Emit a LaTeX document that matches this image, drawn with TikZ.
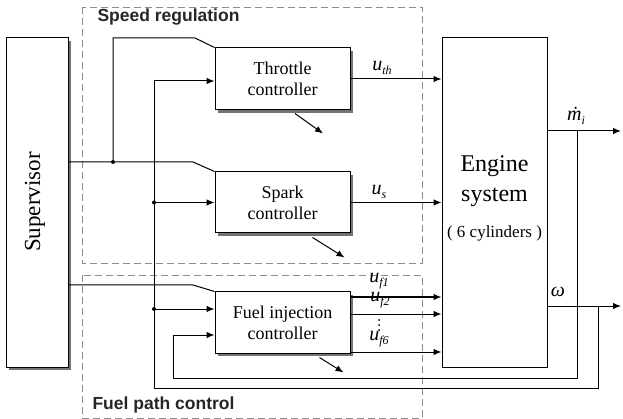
\documentclass[tikz,border=0pt]{standalone}
\usepackage{fontspec}
\setmainfont{Liberation Serif}
\newfontfamily\lblfont{Liberation Sans}
\usetikzlibrary{arrows.meta,shadows,calc}
\newcommand\usub[1]{\textit{u}\raisebox{-3.5pt}{\fontsize{12}{12}\selectfont\itshape #1}}
\begin{document}
\begin{tikzpicture}[x=1pt,y=-1pt,
  line width=1pt,
  box/.style={draw=black, line width=1pt, fill=white, inner sep=0pt, align=center,
    font=\fontsize{18}{21}\selectfont,
    drop shadow={shadow xshift=3pt, shadow yshift=-3pt, fill=black!55, opacity=1}},
  arr/.style={-{Latex[length=8pt,width=6.5pt]}},
  region/.style={draw=black!45, line width=0.9pt, dash pattern=on 7pt off 4pt},
  reglabel/.style={font=\lblfont\bfseries\fontsize{17.5}{20}\selectfont, text=black!85, anchor=base west, inner sep=0pt},
  sig/.style={font=\fontsize{20}{20}\selectfont, inner sep=0pt},
  dot/.style={fill=black}
]
\useasboundingbox (0,0) rectangle (623,419);

% dashed regions
\draw[region] (82,7) rectangle (422,263);
\draw[region] (82,275) rectangle (422,418);
\node[reglabel] (lspeed) at (97,22) {Speed regulation};
\node[reglabel] (lfuel) at (92,409) {Fuel path control};

% blocks
\node[box, minimum width=62pt, minimum height=329pt] (sup) at (37,202.5) {};
\node[rotate=90, font=\fontsize{23}{25}\selectfont, inner sep=0pt] (suptxt) at (35,202) {Supervisor};
\node[box, minimum width=135pt, minimum height=62pt] (thr) at (282.5,79) {Throttle\\controller};
\node[box, minimum width=135pt, minimum height=61pt] (spk) at (282.5,202.5) {Spark\\controller};
\node[box, minimum width=135pt, minimum height=61pt] (ful) at (282.5,322.5) {Fuel injection\\controller};
\node[draw=black, line width=1pt, fill=white, minimum width=105pt, minimum height=329pt] (eng) at (494.5,202.5) {};
\node[align=center, inner sep=0pt, font=\fontsize{24}{30}\selectfont] (engtxt) at (494.5,198)
  {Engine\\system\\[6pt]\fontsize{17}{20}\selectfont ( 6 cylinders )};

% supervisor outputs
\coordinate (j1) at (113,162);
\coordinate (s1) at (68,162);
\coordinate (k1) at (193,162);
\coordinate (t1) at (113,38);
\coordinate (t2) at (195,38);
\draw (s1) -- (k1) -- (spk.north west);
\draw (j1) -- (t1) -- (t2) -- (thr.north west);
\fill[dot] (j1) circle (2);
\coordinate (s2) at (68,285);
\coordinate (k2) at (193,285);
\draw (s2) -- (k2) -- (ful.north west);

% feedback bus (omega)
\coordinate (b1) at (154,81);
\coordinate (b2) at (154,202.5);
\coordinate (b3) at (154,309);
\coordinate (b4) at (154,388);
\coordinate (b5) at (598,388);
\coordinate (b6) at (598,306);
\draw[arr] (b1) -- (b1 -| thr.west);
\draw[arr] (b2) -- (spk.west);
\draw[arr] (b3) -- (b3 -| ful.west);
\draw (b1) -- (b4) -- (b5) -- (b6);
\fill[dot] (b2) circle (2);
\fill[dot] (b3) circle (2);

% feedback (m dot)
\coordinate (m1) at (577,131);
\coordinate (m2) at (577,378);
\coordinate (m3) at (173,378);
\coordinate (m4) at (173,335);
\draw (m1) -- (m2) -- (m3) -- (m4);
\draw[arr] (m4) -- (m4 -| ful.west);

% controller outputs to engine
\draw[arr] (thr.east) -- (thr.east -| eng.west);
\draw[arr] (spk.east) -- (spk.east -| eng.west);
\coordinate (f1) at (350,297);
\coordinate (f2) at (350,314);
\coordinate (f6) at (350,352);
\draw[arr] (f1) -- (f1 -| eng.west);
\draw[arr] (f2) -- (f2 -| eng.west);
\draw[arr] (f6) -- (f6 -| eng.west);
\node[sig] (luth) at (382,68) {\usub{th}};
\node[sig] (lus) at (379,192) {\usub{s}};
\node[sig] (luf1) at (379,281) {\usub{f1}};
\node[sig] (luf2) at (380,300) {\usub{f2}};
\node[sig] (luf6) at (379,339) {\usub{f6}};
\fill (379,320) circle (1) (379,325) circle (1) (379,330) circle (1);

% engine outputs
\coordinate (o1) at (621,131);
\coordinate (o2) at (621,306);
\draw[arr] (eng.east |- o1) -- (o1);
\draw[arr] (eng.east |- o2) -- (o2);
\node[sig] (lm) at (576,116) {\textit{ṁ}\raisebox{-3.5pt}{\fontsize{12}{12}\selectfont\itshape i}};
\node[sig] (lw) at (558,292) {\textit{ω}};

% disturbance arrows
\draw[arr] ($(thr.south)+(12.5,3)$) -- ++(28,20);
\draw[arr] ($(spk.south)+(30,4)$) -- ++(32,20);
\draw[arr] ($(ful.south)+(37,4)$) -- ++(24,15);
\end{tikzpicture}
\end{document}
